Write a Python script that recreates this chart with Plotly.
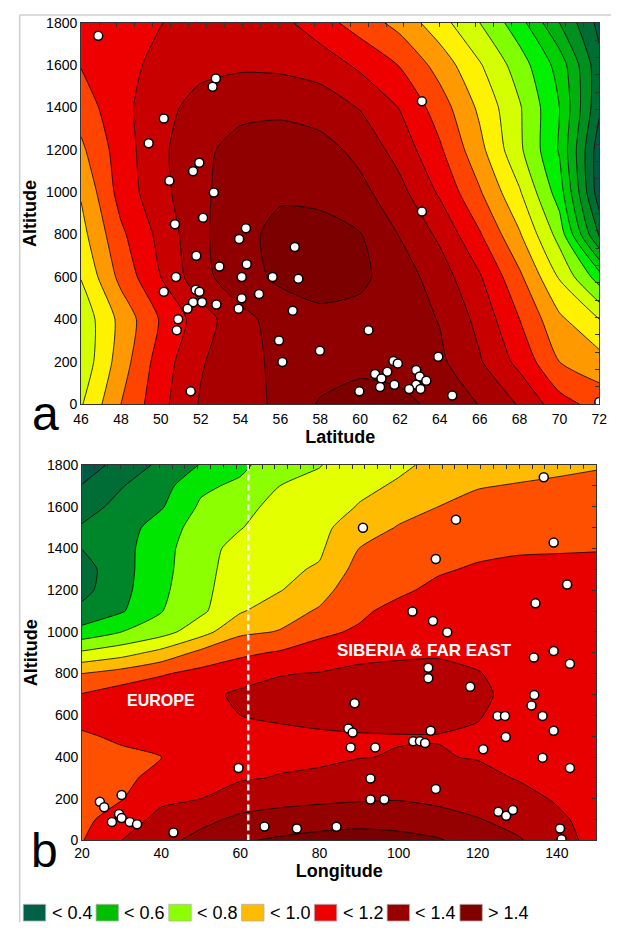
import plotly.graph_objects as go

# ---------------- panel a : latitude x altitude ----------------
lat_grid = [46, 48, 50, 52, 54, 56, 58, 60, 62, 64, 66, 68, 70, 72]
alt_grid_a = [0, 200, 400, 600, 800, 1000, 1200, 1400, 1600, 1800]
rate_a = [
    [0.79, 1.00, 1.17, 1.31, 1.36, 1.42, 1.51, 1.53, 1.52, 1.48, 1.395, 1.29, 1.14, 1.06],
    [0.73, 0.95, 1.15, 1.29, 1.37, 1.42, 1.45, 1.48, 1.47, 1.42, 1.31, 1.17, 1.00, 0.94],
    [0.73, 0.93, 1.11, 1.25, 1.37, 1.44, 1.47, 1.47, 1.45, 1.395, 1.27, 1.10, 0.92, 0.80],
    [0.805, 1.03, 1.20, 1.37, 1.46, 1.52, 1.55, 1.52, 1.45, 1.35, 1.21, 1.02, 0.79, 0.55],
    [0.865, 1.08, 1.23, 1.38, 1.47, 1.53, 1.54, 1.505, 1.395, 1.28, 1.11, 0.91, 0.66, 0.18],
    [0.91, 1.14, 1.27, 1.38, 1.455, 1.485, 1.47, 1.43, 1.33, 1.185, 1.01, 0.81, 0.55, 0.04],
    [0.98, 1.15, 1.28, 1.375, 1.44, 1.46, 1.44, 1.37, 1.26, 1.115, 0.93, 0.72, 0.49, 0.04],
    [1.045, 1.17, 1.265, 1.34, 1.37, 1.375, 1.35, 1.295, 1.195, 1.05, 0.88, 0.71, 0.50, 0.12],
    [1.105, 1.165, 1.23, 1.27, 1.285, 1.28, 1.26, 1.18, 1.095, 0.96, 0.81, 0.65, 0.46, 0.13],
    [1.15, 1.175, 1.197, 1.24, 1.26, 1.23, 1.14, 1.055, 0.965, 0.84, 0.70, 0.54, 0.30, 0.07],
]
site_lat = [46.86, 52.76, 52.6, 50.15, 49.39, 51.93, 51.62, 50.43, 52.66, 52.12, 50.71,
            54.27, 53.93, 56.72, 51.78, 52.94, 54.31, 54.06, 55.61, 50.76, 56.9, 51.75,
            51.94, 50.15, 54.93, 54.06, 51.62, 52.07, 52.79, 51.34, 53.9, 56.62, 50.87,
            50.8, 55.93, 56.1, 51.5, 63.1, 63.1, 60.42, 57.98, 63.92, 61.67, 61.89,
            62.81, 61.36, 60.75, 62.99, 61.07, 63.32, 62.81, 61.72, 61.0, 62.46, 63.03,
            59.96, 64.62, 72.0]
site_alt_a = [1738, 1537, 1498, 1348, 1231, 1139, 1099, 1054, 999, 880, 849,
              830, 779, 741, 700, 649, 660, 600, 600, 600, 591, 540,
              530, 530, 519, 499, 481, 481, 470, 450, 450, 441, 400,
              349, 300, 199, 60, 1429, 909, 349, 252, 223, 203, 192,
              161, 153, 142, 130, 121, 110, 91, 91, 80, 71, 71,
              60, 40, 10]

# ---------------- panel b : longitude x altitude ----------------
lon_grid = [20, 30, 40, 50, 60, 70, 80, 90, 100, 110, 120, 130, 140, 150]
alt_grid_b = [0, 100, 200, 300, 400, 500, 600, 700, 800, 900,
              1000, 1100, 1200, 1300, 1400, 1500, 1600, 1700, 1800]
rate_b = [
    [0.995, 1.10, 1.17, 1.23, 1.29, 1.315, 1.335, 1.35, 1.34, 1.31, 1.25, 1.21, 1.15, 1.06],
    [0.975, 1.05, 1.13, 1.175, 1.22, 1.24, 1.255, 1.26, 1.25, 1.235, 1.205, 1.17, 1.12, 1.06],
    [0.962, 0.995, 1.08, 1.10, 1.15, 1.17, 1.18, 1.19, 1.195, 1.18, 1.16, 1.135, 1.09, 1.055],
    [0.955, 0.97, 1.04, 1.065, 1.09, 1.105, 1.115, 1.125, 1.135, 1.13, 1.125, 1.095, 1.075, 1.055],
    [0.96, 0.975, 0.998, 1.05, 1.075, 1.08, 1.085, 1.098, 1.103, 1.105, 1.095, 1.08, 1.065, 1.05],
    [0.985, 1.02, 1.03, 1.06, 1.08, 1.085, 1.09, 1.095, 1.097, 1.097, 1.09, 1.07, 1.06, 1.05],
    [1.04, 1.06, 1.06, 1.075, 1.10, 1.11, 1.12, 1.125, 1.13, 1.125, 1.105, 1.07, 1.055, 1.05],
    [1.005, 1.05, 1.07, 1.075, 1.115, 1.13, 1.135, 1.14, 1.145, 1.14, 1.12, 1.07, 1.055, 1.045],
    [0.90, 0.94, 0.99, 1.03, 1.06, 1.095, 1.105, 1.12, 1.125, 1.125, 1.105, 1.065, 1.05, 1.045],
    [0.715, 0.76, 0.83, 0.925, 0.98, 1.01, 1.03, 1.075, 1.085, 1.09, 1.075, 1.06, 1.05, 1.04],
    [0.535, 0.60, 0.66, 0.76, 0.88, 0.905, 0.985, 1.01, 1.055, 1.065, 1.06, 1.055, 1.045, 1.035],
    [0.425, 0.49, 0.595, 0.68, 0.79, 0.86, 0.91, 0.985, 1.025, 1.045, 1.05, 1.05, 1.04, 1.03],
    [0.37, 0.47, 0.58, 0.67, 0.765, 0.795, 0.865, 0.96, 0.985, 1.02, 1.035, 1.04, 1.03, 1.02],
    [0.36, 0.465, 0.57, 0.665, 0.75, 0.78, 0.81, 0.935, 0.96, 0.99, 1.01, 1.02, 1.015, 1.01],
    [0.402, 0.465, 0.565, 0.66, 0.735, 0.77, 0.785, 0.90, 0.94, 0.97, 0.98, 0.99, 0.995, 0.998],
    [0.41, 0.45, 0.55, 0.64, 0.695, 0.755, 0.77, 0.86, 0.905, 0.94, 0.955, 0.965, 0.975, 0.98],
    [0.36, 0.43, 0.49, 0.615, 0.67, 0.73, 0.755, 0.805, 0.87, 0.90, 0.925, 0.94, 0.95, 0.96],
    [0.305, 0.395, 0.46, 0.58, 0.62, 0.70, 0.73, 0.78, 0.81, 0.86, 0.895, 0.905, 0.915, 0.93],
    [0.24, 0.34, 0.42, 0.505, 0.575, 0.665, 0.695, 0.76, 0.785, 0.82, 0.85, 0.87, 0.88, 0.89],
]
site_lon = [24.5, 25.6, 30.0, 29.35, 30.0, 27.55, 32.06, 33.9, 43.1, 59.55, 66.1, 74.3,
            136.7, 91.0, 114.5, 139.2, 109.4, 142.6, 134.6, 103.5, 108.7, 112.3,
            139.2, 134.2, 143.3, 107.5, 107.5, 118.1, 88.9, 134.3, 133.6, 125.0,
            126.9, 136.4, 87.3, 88.4, 108.1, 127.1, 139.2, 87.9, 94.1, 103.7,
            105.4, 106.7, 121.4, 136.4, 143.3, 92.9, 109.4, 92.9, 96.4, 125.2,
            127.2, 128.9, 84.3, 140.8, 141.2]
site_alt_b = [185, 159, 218, 127, 107, 88, 88, 77, 38, 347, 67, 57,
              1741, 1499, 1538, 1428, 1349, 1227, 1137, 1098, 1052, 998,
              908, 877, 847, 828, 778, 737, 658, 697, 647, 597,
              597, 597, 537, 517, 526, 496, 526, 446, 446, 476,
              476, 467, 437, 397, 347, 297, 247, 196, 196, 137,
              118, 146, 66, 57, 6]
ural_lon = 62

# ---------------- class legend ----------------
legend_labels = ["< 0.4", "< 0.6", "< 0.8", "< 1.0", "< 1.2", "< 1.4", "> 1.4"]
legend_colors = ["#006146", "#00be00", "#8cff00", "#ffbb00", "#ee0000", "#990000", "#800000"]

# band fill colours, lowest band first
colors_a = ["#005a46", "#006e32", "#009020", "#00b010", "#00d000", "#00f000", "#80ff00",
            "#d4ff00", "#fff200", "#ff9900", "#ff4400", "#ee0000", "#c80000", "#a80000",
            "#900000", "#7d0000"]
colors_b = ["#005a46", "#006c36", "#00862a", "#00e600", "#8cff00", "#e4ff00", "#ffbb00",
            "#ff5000", "#e80000", "#b40000", "#950000", "#780000"]

W, H = 619, 930
FONT = "Liberation Sans, Arial, sans-serif"


def band_scale(colors):
    """Stepped colorscale: one flat colour per contour band."""
    n = len(colors) - 1
    scale = []
    for k, c in enumerate(colors):
        lo = max(0.0, (k - 0.5) / n)
        hi = min(1.0, (k + 0.5) / n)
        scale.append([lo, c])
        scale.append([hi, c])
    return scale


def px(xp, yp):
    return xp / W, 1 - yp / H


fig = go.Figure()

fig.add_trace(go.Contour(
    x=lat_grid, y=alt_grid_a, z=rate_a, xaxis="x", yaxis="y",
    autocontour=False, contours=dict(start=0.1, end=1.5, size=0.1, coloring="fill"),
    colorscale=band_scale(colors_a), showscale=False,
    line=dict(color="black", width=0.8, smoothing=0.6), hoverinfo="skip"))
fig.add_trace(go.Scatter(
    x=site_lat, y=site_alt_a, xaxis="x3", yaxis="y3", mode="markers", showlegend=False,
    marker=dict(size=9, color="white", line=dict(color="black", width=1.5))))

fig.add_trace(go.Contour(
    x=lon_grid, y=alt_grid_b, z=rate_b, xaxis="x2", yaxis="y2",
    autocontour=False, contours=dict(start=0.3, end=1.3, size=0.1, coloring="fill"),
    colorscale=band_scale(colors_b), showscale=False,
    line=dict(color="black", width=0.8, smoothing=0.6), hoverinfo="skip"))
fig.add_trace(go.Scatter(
    x=[ural_lon, ural_lon], y=[alt_grid_b[0], alt_grid_b[-1]], xaxis="x2", yaxis="y2",
    mode="lines", showlegend=False, hoverinfo="skip",
    line=dict(color="white", width=2.5, dash="6px,4px")))
fig.add_trace(go.Scatter(
    x=site_lon, y=site_alt_b, xaxis="x4", yaxis="y4", mode="markers", showlegend=False,
    marker=dict(size=9, color="white", line=dict(color="black", width=1.5))))

dom_ax = [75 / W, 607 / W]
dom_ay = [1 - 403 / H, 1 - 15 / H]
dom_bx = [76 / W, 604 / W]
dom_by = [1 - 847 / H, 1 - 465 / H]

tickfont = dict(family=FONT, size=14, color="black")
titlefont = dict(family=FONT, size=18, color="black", weight="bold")
frame = dict(showline=True, linecolor="#333333", linewidth=1, mirror=True,
             showgrid=False, zeroline=False, tickfont=tickfont)
inner = dict(showline=False, showgrid=False, zeroline=False, showticklabels=False,
             ticks="inside", ticklen=4, tickcolor="#333333", tickwidth=1)

fig.update_layout(
    width=W, height=H, margin=dict(l=0, r=0, t=0, b=0),
    paper_bgcolor="white", plot_bgcolor="white", showlegend=False,
    xaxis=dict(domain=dom_ax, anchor="y", range=[46, 72], tickmode="linear", tick0=46, dtick=2,
               ticks="", ticklabelstandoff=2,
               title=dict(text="Latitude", font=titlefont, standoff=2), **frame),
    yaxis=dict(domain=dom_ay, anchor="x", range=[0, 1800], tickmode="linear", tick0=0, dtick=200,
               ticks="", title=dict(text="Altitude", font=titlefont, standoff=4), **frame),
    xaxis3=dict(overlaying="x", anchor="y", side="top", range=[46, 72], tick0=46, dtick=0.9, **inner),
    yaxis3=dict(overlaying="y", anchor="x", side="right", range=[0, 1800], tick0=0, dtick=1800 / 22, **inner),
    xaxis2=dict(domain=dom_bx, anchor="y2", range=[20, 150], tickmode="linear", tick0=20, dtick=20,
                ticks="", title=dict(text="Longitude", font=titlefont, standoff=2), **frame),
    yaxis2=dict(domain=dom_by, anchor="x2", range=[0, 1800], tickmode="linear", tick0=0, dtick=200,
                ticks="", title=dict(text="Altitude", font=titlefont, standoff=4), **frame),
    xaxis4=dict(overlaying="x2", anchor="y2", side="top", range=[20, 150], tick0=20, dtick=130 / 40, **inner),
    yaxis4=dict(overlaying="y2", anchor="x2", side="right", range=[0, 1800], tick0=0, dtick=100, **inner),
)

annotations = [
    dict(x=39.9, y=669, xref="x2", yref="y2", text="<b>EUROPE</b>", showarrow=False,
         font=dict(family=FONT, size=16, color="white")),
    dict(x=106.5, y=913, xref="x2", yref="y2", text="<b>SIBERIA &amp; FAR EAST</b>", showarrow=False,
         font=dict(family=FONT, size=17, color="white")),
]
for letter, (cx, cy) in (("a", (38, 413)), ("b", (37, 857))):
    x0, y0 = px(cx, cy)
    annotations.append(dict(x=x0, y=y0, xref="paper", yref="paper", text=letter, showarrow=False,
                            xanchor="center", yanchor="middle",
                            font=dict(family=FONT, size=48, color="black")))

shapes = [
    # outer frame lines
    dict(type="line", xref="paper", yref="paper", x0=12 / W, x1=12 / W, y0=0, y1=1 - 7 / H,
         line=dict(color="#cfcfcf", width=1.5)),
    dict(type="line", xref="paper", yref="paper", x0=12 / W, x1=1, y0=1 - 7 / H, y1=1 - 7 / H,
         line=dict(color="#cfcfcf", width=1.5)),
]
step = 74.7
for i, (lab, col) in enumerate(zip(legend_labels, legend_colors)):
    left = 15.7 + i * step
    x0, y0 = px(left, 929)
    x1, y1 = px(left + 23, 912)
    shapes.append(dict(type="rect", xref="paper", yref="paper", x0=x0, x1=x1, y0=y0, y1=y1,
                       fillcolor=col, line=dict(color="#b0b0b0", width=0.8)))
    tx, ty = px(left + 27, 920.5)
    annotations.append(dict(x=tx, y=ty, xref="paper", yref="paper", text=lab, showarrow=False,
                            xanchor="left", yanchor="middle",
                            font=dict(family=FONT, size=18, color="black")))

fig.update_layout(annotations=annotations, shapes=shapes)
fig.write_html("out.html")
